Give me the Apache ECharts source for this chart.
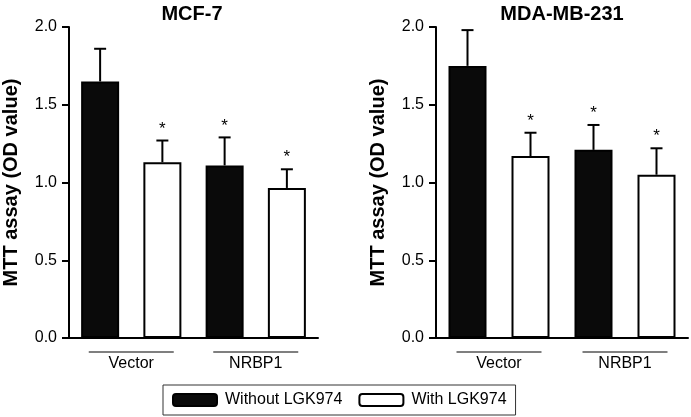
<!DOCTYPE html>
<html><head><meta charset="utf-8">
<script src="https://cdn.jsdelivr.net/npm/echarts@6/dist/echarts.min.js"></script>
<style>html,body{margin:0;padding:0;background:#fff}#c{width:691px;height:417px}</style>
</head><body><div id="c"></div>
<script>
// ---- data ----
const panelTitles = ['MCF-7', 'MDA-MB-231'];
const groups = ['Vector', 'NRBP1'];
const bars = ['Vector-', 'Vector+', 'NRBP1-', 'NRBP1+'];
const seriesNames = ['Without LGK974', 'With LGK974'];
const yTicks = [0, 0.5, 1.0, 1.5, 2.0];
// MCF-7
const mcfWithout = [1.65, 1.11];
const mcfWithoutErr = [0.21, 0.18];
const mcfWith = [1.13, 0.965];
const mcfWithErr = [0.14, 0.12];
const mcfSig = [false, true, true, true];
// MDA-MB-231
const mdaWithout = [1.75, 1.21];
const mdaWithoutErr = [0.23, 0.16];
const mdaWith = [1.17, 1.05];
const mdaWithErr = [0.15, 0.17];
const mdaSig = [false, true, true, true];

const FONT = 'Liberation Sans, Arial, sans-serif';
const chart = echarts.init(document.getElementById('c'));

const panels = [
  {without: mcfWithout, withoutErr: mcfWithoutErr, with_: mcfWith, withErr: mcfWithErr, sig: mcfSig,
   grid: {left: 66, right: 373, top: 27, bottom: 79}, titleX: 187},
  {without: mdaWithout, withoutErr: mdaWithoutErr, with_: mdaWith, withErr: mdaWithErr, sig: mdaSig,
   grid: {left: 436, right: 3, top: 27, bottom: 79}, titleX: 557}
];

const grids = [], xAxes = [], yAxes = [], series = [], titles = [];
panels.forEach((p, k) => {
  grids.push(p.grid);
  titles.push({text: panelTitles[k], left: p.titleX, top: -1, textAlign: 'center',
    textStyle: {fontFamily: FONT, fontSize: 20, fontWeight: 'bold', color: '#000'}});
  // main category axis
  xAxes.push({type: 'category', gridIndex: k, data: bars, boundaryGap: true,
    axisLine: {lineStyle: {color: '#000', width: 2}},
    axisTick: {inside: true, length: 4, lineStyle: {color: '#000', width: 2}},
    axisLabel: {show: false}});
  // group axis
  xAxes.push({type: 'category', gridIndex: k, data: groups, position: 'bottom',
    axisLine: {show: false}, axisTick: {show: false},
    axisLabel: {margin: 18, fontFamily: FONT, fontSize: 16, color: '#000'}});
  yAxes.push({type: 'value', gridIndex: k, min: 0, max: 2, interval: 0.5,
    name: 'MTT assay (OD value)', nameLocation: 'middle', nameGap: 48,
    nameTextStyle: {fontFamily: FONT, fontSize: 20, fontWeight: 'bold', color: '#000'},
    axisLine: {show: true, lineStyle: {color: '#000', width: 2}},
    axisTick: {show: true, length: 7, lineStyle: {color: '#000', width: 2}},
    splitLine: {show: false},
    axisLabel: {fontFamily: FONT, fontSize: 16, color: '#000', margin: 12,
      formatter: v => v.toFixed(1)}});
  const dWithout = [], dWith = [], err = [];
  groups.forEach((g, i) => {
    dWithout.push(p.without[i], '-');
    dWith.push('-', p.with_[i]);
    err.push([2 * i, p.without[i], p.withoutErr[i], p.sig[2 * i] ? 1 : 0]);
    err.push([2 * i + 1, p.with_[i], p.withErr[i], p.sig[2 * i + 1] ? 1 : 0]);
  });
  series.push({name: seriesNames[0], type: 'bar', xAxisIndex: 2 * k, yAxisIndex: k,
    data: dWithout, barWidth: 38, barGap: '-100%',
    itemStyle: {color: '#0a0a0a', borderColor: '#000', borderWidth: 2}});
  series.push({name: seriesNames[1], type: 'bar', xAxisIndex: 2 * k, yAxisIndex: k,
    data: dWith, barWidth: 38, barGap: '-100%',
    itemStyle: {color: '#fff', borderColor: '#000', borderWidth: 2}});
  series.push({type: 'custom', xAxisIndex: 2 * k, yAxisIndex: k, data: err, z: 1,
    renderItem: (params, api) => {
      const base = api.coord([api.value(0), api.value(1)]);
      const top = api.coord([api.value(0), api.value(1) + api.value(2)]);
      const st = {stroke: '#000', lineWidth: 2};
      const children = [
        {type: 'line', shape: {x1: base[0], y1: base[1], x2: top[0], y2: top[1]}, style: st},
        {type: 'line', shape: {x1: top[0] - 6, y1: top[1], x2: top[0] + 6, y2: top[1]}, style: st}
      ];
      if (api.value(3)) {
        children.push({type: 'text', x: top[0], y: top[1] - 3,
          style: {text: '*', fontFamily: FONT, fontSize: 17, fill: '#000',
            textAlign: 'center', textVerticalAlign: 'bottom'}});
      }
      return {type: 'group', children};
    }});
  // group underlines
  series.push({type: 'custom', xAxisIndex: 2 * k + 1, yAxisIndex: k,
    data: groups.map((g, i) => [i, 0]),
    renderItem: (params, api) => {
      const c = api.coord([api.value(0), 0]);
      return {type: 'line', shape: {x1: c[0] - 42.5, y1: c[1] + 14, x2: c[0] + 42.5, y2: c[1] + 14},
        style: {stroke: '#555', lineWidth: 1.5}};
    }});
});

chart.setOption({
  animation: false,
  title: titles,
  grid: grids,
  xAxis: xAxes,
  yAxis: yAxes,
  legend: {data: seriesNames, left: 163, top: 385, itemWidth: 44, itemHeight: 12, itemGap: 16,
    padding: [7, 9], borderColor: '#333', borderWidth: 1,
    textStyle: {fontFamily: FONT, fontSize: 16, color: '#000', padding: [0, 0, 0, 3]}},
  series: series
});
</script></body></html>
